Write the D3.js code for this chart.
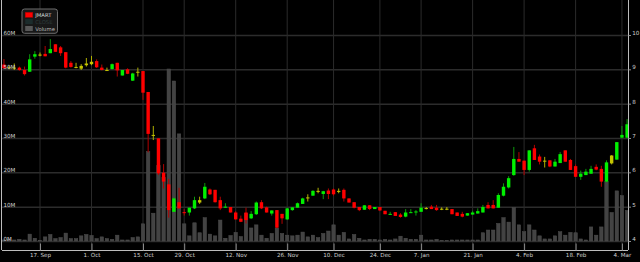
<!DOCTYPE html>
<html>
<head>
<meta charset="utf-8">
<script src="https://cdn.jsdelivr.net/npm/d3@7"></script>
<style>
  html, body { margin: 0; padding: 0; background: #000; }
  svg { display: block; font-family: "DejaVu Sans", sans-serif; }
</style>
</head>
<body>
<div id="chart"></div>
<script>
// trading days on the chart (weekends and SET holidays are not there)
const days = [
  "2012-09-06","2012-09-07","2012-09-10","2012-09-11","2012-09-12","2012-09-13","2012-09-14",
  "2012-09-17","2012-09-18","2012-09-19","2012-09-20","2012-09-21","2012-09-24","2012-09-25","2012-09-26","2012-09-27","2012-09-28",
  "2012-10-01","2012-10-02","2012-10-03","2012-10-04","2012-10-05","2012-10-08","2012-10-09","2012-10-10","2012-10-11","2012-10-12",
  "2012-10-15","2012-10-16","2012-10-17","2012-10-18","2012-10-19","2012-10-22","2012-10-24","2012-10-25",
  "2012-10-29","2012-10-30","2012-10-31","2012-11-01","2012-11-02","2012-11-05","2012-11-06","2012-11-07","2012-11-08","2012-11-09",
  "2012-11-12","2012-11-13","2012-11-14","2012-11-15","2012-11-16","2012-11-19","2012-11-20","2012-11-21","2012-11-22","2012-11-23",
  "2012-11-26","2012-11-27","2012-11-28","2012-11-29","2012-11-30","2012-12-03","2012-12-04","2012-12-06","2012-12-07",
  "2012-12-11","2012-12-12","2012-12-13","2012-12-14","2012-12-17","2012-12-18","2012-12-19","2012-12-20","2012-12-21",
  "2012-12-24","2012-12-25","2012-12-26","2012-12-27","2012-12-28","2013-01-02","2013-01-03","2013-01-04",
  "2013-01-07","2013-01-08","2013-01-09","2013-01-10","2013-01-11","2013-01-14","2013-01-15","2013-01-16","2013-01-17","2013-01-18",
  "2013-01-21","2013-01-22","2013-01-23","2013-01-24","2013-01-25","2013-01-28","2013-01-29","2013-01-30","2013-01-31","2013-02-01",
  "2013-02-04","2013-02-05","2013-02-06","2013-02-07","2013-02-08","2013-02-11","2013-02-12","2013-02-13","2013-02-14","2013-02-15",
  "2013-02-18","2013-02-19","2013-02-20","2013-02-21","2013-02-22","2013-02-26","2013-02-27","2013-02-28","2013-03-01",
  "2013-03-04","2013-03-05"
];

const open = [
  9.14, 9.06, 9.05, 9.05, 8.98, 8.93, 9.37, 9.43, 9.45, 9.47,
  9.73, 9.64, 9.50, 9.19, 9.07, 9.02, 9.12, 9.15, 9.24, 9.05,
  8.98, 9.01, 9.19, 8.82, 9.00, 8.67, 8.93, 8.95, 8.34, 7.09,
  6.99, 5.99, 5.65, 4.85, 5.13, 4.84, 4.83, 4.95, 5.12, 5.24,
  5.50, 5.49, 5.19, 4.97, 4.99, 4.83, 4.65, 4.83, 4.66, 4.78,
  5.13, 4.98, 4.80, 4.90, 4.79, 4.63, 4.90, 4.97, 5.08, 5.24,
  5.32, 5.46, 5.37, 5.47, 5.50, 5.46, 5.49, 5.24, 5.13, 4.99,
  4.91, 5.04, 4.93, 4.99, 4.88, 4.77, 4.84, 4.77, 4.71, 4.82,
  4.84, 4.85, 4.96, 5.00, 4.97, 4.94, 4.94, 4.93, 4.83, 4.79,
  4.74, 4.77, 4.80, 4.83, 5.05, 5.05, 4.97, 5.32, 5.56, 5.92,
  6.39, 6.34, 6.07, 6.70, 6.46, 6.34, 6.35, 6.17, 6.27, 6.64,
  6.36, 6.18, 5.87, 5.92, 5.96, 6.16, 6.10, 5.73, 6.26, 6.37,
  7.01, 7.01
];
const high = [
  9.30, 9.10, 9.17, 9.08, 9.08, 9.44, 9.53, 9.49, 9.68, 9.88,
  9.73, 9.68, 9.50, 9.24, 9.19, 9.15, 9.33, 9.39, 9.29, 9.14,
  9.05, 9.17, 9.19, 8.98, 9.03, 8.90, 9.05, 8.95, 8.34, 7.35,
  6.99, 6.24, 5.81, 5.27, 5.55, 4.93, 4.97, 5.29, 5.29, 5.69,
  5.53, 5.49, 5.29, 5.10, 4.99, 4.87, 4.74, 4.97, 4.87, 5.15,
  5.19, 5.00, 4.89, 4.90, 4.79, 4.97, 4.99, 5.12, 5.26, 5.36,
  5.48, 5.55, 5.46, 5.53, 5.53, 5.53, 5.53, 5.24, 5.13, 4.99,
  5.04, 5.04, 4.99, 4.99, 4.88, 4.85, 4.84, 4.81, 4.93, 4.93,
  4.90, 5.10, 4.99, 5.05, 5.05, 4.98, 4.99, 4.93, 4.83, 4.85,
  4.81, 4.88, 4.95, 5.05, 5.13, 5.19, 5.39, 5.68, 5.89, 6.74,
  6.59, 6.34, 6.64, 6.80, 6.52, 6.45, 6.35, 6.39, 6.59, 6.64,
  6.39, 6.23, 6.05, 6.10, 6.19, 6.23, 6.19, 6.35, 6.50, 6.88,
  7.35, 7.55
];
const low = [
  9.01, 9.00, 8.98, 8.96, 8.82, 8.93, 9.31, 9.38, 9.38, 9.47,
  9.51, 9.39, 9.03, 9.05, 9.03, 8.98, 9.08, 9.12, 9.04, 8.97,
  8.97, 8.99, 8.79, 8.82, 8.86, 8.66, 8.79, 8.11, 6.58, 6.94,
  5.92, 5.53, 4.68, 4.85, 4.95, 4.74, 4.74, 4.93, 5.08, 5.22,
  5.34, 5.12, 4.90, 4.97, 4.83, 4.62, 4.55, 4.51, 4.64, 4.76,
  4.93, 4.83, 4.74, 4.37, 4.50, 4.61, 4.88, 4.97, 5.08, 5.15,
  5.32, 5.39, 5.22, 5.22, 5.32, 5.39, 5.15, 5.12, 4.95, 4.87,
  4.91, 4.90, 4.93, 4.87, 4.78, 4.76, 4.73, 4.68, 4.69, 4.82,
  4.74, 4.85, 4.92, 4.93, 4.88, 4.90, 4.90, 4.78, 4.73, 4.69,
  4.74, 4.77, 4.80, 4.83, 4.95, 4.95, 4.97, 5.30, 5.53, 5.90,
  6.31, 5.92, 6.02, 6.36, 6.23, 6.14, 6.15, 6.17, 6.27, 6.31,
  6.07, 5.86, 5.78, 5.92, 5.96, 6.06, 5.58, 5.71, 6.23, 6.37,
  6.99, 6.99
];
const close = [
  9.03, 9.05, 9.05, 8.98, 8.86, 9.29, 9.44, 9.43, 9.38, 9.59,
  9.51, 9.47, 9.05, 9.07, 9.07, 9.10, 9.17, 9.22, 9.06, 8.98,
  8.98, 9.15, 8.97, 8.98, 8.87, 8.88, 8.93, 8.32, 7.12, 7.09,
  5.97, 5.73, 4.90, 5.24, 4.95, 4.83, 4.97, 5.19, 5.19, 5.58,
  5.36, 5.13, 4.95, 5.00, 4.83, 4.63, 4.56, 4.61, 4.79, 5.12,
  4.95, 4.83, 4.89, 4.39, 4.66, 4.95, 4.98, 5.10, 5.24, 5.27,
  5.46, 5.46, 5.45, 5.37, 5.36, 5.46, 5.24, 5.12, 4.97, 4.90,
  5.04, 4.93, 4.99, 4.89, 4.78, 4.79, 4.73, 4.70, 4.83, 4.84,
  4.86, 4.97, 4.96, 4.93, 4.90, 4.94, 4.94, 4.78, 4.73, 4.71,
  4.81, 4.83, 4.87, 4.99, 4.95, 4.95, 5.34, 5.58, 5.83, 6.39,
  6.31, 6.07, 6.64, 6.36, 6.31, 6.34, 6.17, 6.31, 6.53, 6.31,
  6.07, 5.87, 5.96, 6.02, 6.10, 6.08, 5.73, 6.29, 6.49, 6.88,
  7.09, 7.40
];
// u = up, d = down, n = unchanged against the day before
const trend = [
  "d","n","n","d","d","u","u","n","d","u",
  "d","d","d","d","n","n","n","n","d","d",
  "n","u","d","u","d","u","n","d","d","n",
  "d","d","d","u","d","d","u","u","n","u",
  "d","d","d","u","d","d","d","d","u","u",
  "d","d","u","d","d","u","u","u","u","n",
  "u","n","u","d","d","n","d","d","d","d",
  "u","d","u","d","d","u","d","d","u","u",
  "u","u","n","d","d","n","n","d","d","d",
  "u","u","u","u","d","d","u","u","u","u",
  "d","d","u","d","d","n","d","u","u","d",
  "d","d","u","u","u","d","d","u","n","u",
  "u","u"
];
// volume, millions of shares
const volume = [
  0.3, 0.5, 0.3, 0.5, 0.3, 2.0, 0.8, 0.2, 1.2, 1.9,
  0.7, 1.0, 2.3, 0.7, 0.7, 1.5, 1.9, 1.6, 0.7, 1.2,
  0.7, 0.5, 1.7, 0.3, 0.3, 1.0, 1.2, 5.0, 26, 8.1,
  22, 18.5, 50.1, 46.6, 31.2, 5.0, 1.5, 5.3, 2.4, 6.8,
  2.0, 1.5, 6.1, 0.8, 1.6, 2.5, 1.3, 8.0, 3.8, 4.7,
  1.7, 0.8, 2.2, 3.8, 2.2, 1.7, 1.5, 1.7, 2.6, 1.2,
  1.7, 1.0, 2.2, 2.9, 4.7, 1.7, 2.5, 0.6, 1.9, 0.8,
  0.3, 0.5, 0.5, 0.3, 0.5, 0.3, 0.6, 1.4, 0.8, 0.5,
  0.5, 1.7, 0.3, 0.3, 0.5, 0.1, 0.1, 0.3, 0.3, 0.3,
  0.3, 0.3, 0.3, 2.4, 3.2, 3.2, 5.1, 6.8, 5.5, 9.7,
  4.7, 2.7, 4.7, 3.2, 1.5, 0.6, 0.6, 1.5, 2.7, 1.7,
  2.5, 2.4, 0.6, 0.3, 4.1, 1.7, 4.1, 17.3, 8.3, 14.6,
  13.2, 8.9
];

const volTicks = [0, 10, 20, 30, 40, 50, 60];
const priceTicks = [4, 5, 6, 7, 8, 9, 10];
const tickDates = ["2012-09-17","2012-10-01","2012-10-15","2012-10-29","2012-11-12","2012-11-26",
  "2012-12-10","2012-12-24","2013-01-07","2013-01-21","2013-02-04","2013-02-18","2013-03-04"];

const legendItems = ["JMART", "CLOSE", "Volume"];

// chart geometry
const width = 640;
const height = 262;
const plotLeft = 2;
const plotRight = 628;
const plotBottom = 250;
const bodyWidth = 3.4;

const bodyColor = { u: "#00f000", d: "#ff0000", n: "#c4c400" };
const wickColor = { u: "#0a9a0a", d: "#b40000", n: "#b0b000" };

const x = d3.scaleLinear([0, days.length - 1], [3.95, 627.1]);
const yPrice = d3.scaleLinear([4, 10], [241, 35]);
const yVol = d3.scaleLinear([0, 60], [241, 35]);

const parse = d3.utcParse("%Y-%m-%d");
const fmt = d3.utcFormat("%-d. %b");
// a tick on a holiday goes to the next trading day
const tickIdx = tickDates.map(d => d3.bisectLeft(days, d));

const svg = d3.select("#chart").append("svg")
    .attr("width", width)
    .attr("height", height)
    .attr("viewBox", [0, 0, width, height]);

svg.append("rect").attr("width", width).attr("height", height).attr("fill", "#000");

// horizontal grid
svg.append("g")
    .attr("transform", `translate(${plotLeft},0)`)
    .call(d3.axisRight(yVol).tickValues(volTicks).tickSize(plotRight - plotLeft).tickFormat(""))
    .call(g => g.select(".domain").remove())
    .call(g => g.selectAll(".tick line").attr("stroke", "#2c2c2c").attr("stroke-width", 1.5));

// vertical grid
svg.append("g")
    .selectAll("line")
    .data(tickIdx)
    .join("line")
    .attr("x1", i => x(i)).attr("x2", i => x(i))
    .attr("y1", 0).attr("y2", plotBottom)
    .attr("stroke", "#2a2a2a")
    .attr("stroke-width", 1);

const idx = d3.range(days.length);

// volume bars
svg.append("g")
    .selectAll("rect")
    .data(idx)
    .join("rect")
    .attr("x", i => x(i) - bodyWidth / 2)
    .attr("y", i => yVol(volume[i]))
    .attr("width", bodyWidth)
    .attr("height", i => yVol(0) - yVol(volume[i]))
    .attr("fill", "#434343")
    .attr("stroke", "#4e4e4e")
    .attr("stroke-width", 0.5);

// candles: wick then body
svg.append("g")
    .selectAll("line")
    .data(idx)
    .join("line")
    .attr("x1", i => x(i)).attr("x2", i => x(i))
    .attr("y1", i => yPrice(high[i]))
    .attr("y2", i => yPrice(low[i]))
    .attr("stroke", i => wickColor[trend[i]])
    .attr("stroke-width", 1);

svg.append("g")
    .selectAll("rect")
    .data(idx)
    .join("rect")
    .attr("x", i => x(i) - bodyWidth / 2)
    .attr("y", i => yPrice(Math.max(open[i], close[i])))
    .attr("width", bodyWidth)
    .attr("height", i => Math.max(1, Math.abs(yPrice(open[i]) - yPrice(close[i]))))
    .attr("fill", i => bodyColor[trend[i]]);

// axis lines
svg.append("line")
    .attr("x1", 1.5).attr("x2", 1.5).attr("y1", 0).attr("y2", plotBottom)
    .attr("stroke", "#bdbdbd");
svg.append("line")
    .attr("x1", plotRight + 0.5).attr("x2", plotRight + 0.5).attr("y1", 0).attr("y2", plotBottom)
    .attr("stroke", "#bdbdbd");

// x axis
svg.append("g")
    .attr("transform", `translate(0,${plotBottom + 0.5})`)
    .call(d3.axisBottom(x).tickValues(tickIdx).tickSize(-7).tickPadding(3)
        .tickFormat((d, i) => fmt(parse(tickDates[i]))))
    .call(g => g.select(".domain").attr("stroke", "#bdbdbd").attr("d", `M${plotLeft},0H${plotRight}`))
    .call(g => g.selectAll(".tick line").attr("stroke", "#8a8a8a"))
    .call(g => g.selectAll(".tick text")
        .attr("y", 6.5)
        .attr("dy", "0")
        .attr("fill", "#d0d0d0")
        .attr("font-size", 5.6)
        .attr("font-family", "DejaVu Sans"));

// volume labels inside the plot, left
svg.append("g")
    .attr("transform", `translate(${plotLeft},0)`)
    .call(d3.axisRight(yVol).tickValues(volTicks).tickSize(0).tickFormat(d => d + "M"))
    .call(g => g.select(".domain").remove())
    .call(g => g.selectAll(".tick text")
        .attr("x", 1.5)
        .attr("dy", "-0.1em")
        .attr("fill", "#d0d0d0")
        .attr("font-size", 5.6)
        .attr("font-family", "DejaVu Sans"));

// price labels, right
svg.append("g")
    .attr("transform", `translate(${plotRight + 0.5},0)`)
    .call(d3.axisRight(yPrice).tickValues(priceTicks).tickSize(2.5).tickPadding(1.2)
        .tickFormat(d3.format("d")))
    .call(g => g.select(".domain").remove())
    .call(g => g.selectAll(".tick line").attr("stroke", "#8a8a8a"))
    .call(g => g.selectAll(".tick text")
        .attr("dy", "-0.1em")
        .attr("fill", "#d0d0d0")
        .attr("font-size", 5.6)
        .attr("font-family", "DejaVu Sans"));

// legend
const legend = svg.append("g").attr("transform", "translate(22,9)");
legend.append("rect")
    .attr("width", 35.5).attr("height", 24.3).attr("rx", 2.5)
    .attr("fill", "#1b1b1b").attr("fill-opacity", 0.9)
    .attr("stroke", "#6e6e6e").attr("stroke-width", 1);
const legendSwatch = ["#ff0000", "#1c2c2c", "#585858"];
const legendText = ["#dcdcdc", "#2c3a3a", "#bdbdbd"];
const rows = legend.selectAll("g.item")
    .data(legendItems)
    .join("g")
    .attr("class", "item")
    .attr("transform", (d, i) => `translate(3.2,${3.3 + i * 6.85})`);
rows.append("rect")
    .attr("width", 7.6).attr("height", 5)
    .attr("fill", (d, i) => legendSwatch[i])
    .attr("stroke", (d, i) => i === 0 ? "#a00" : "none")
    .attr("stroke-width", 0.5);
rows.append("text")
    .attr("x", 10)
    .attr("y", 4.6)
    .attr("font-size", 5.3)
    .attr("fill", (d, i) => legendText[i])
    .text(d => d);
</script>
</body>
</html>
